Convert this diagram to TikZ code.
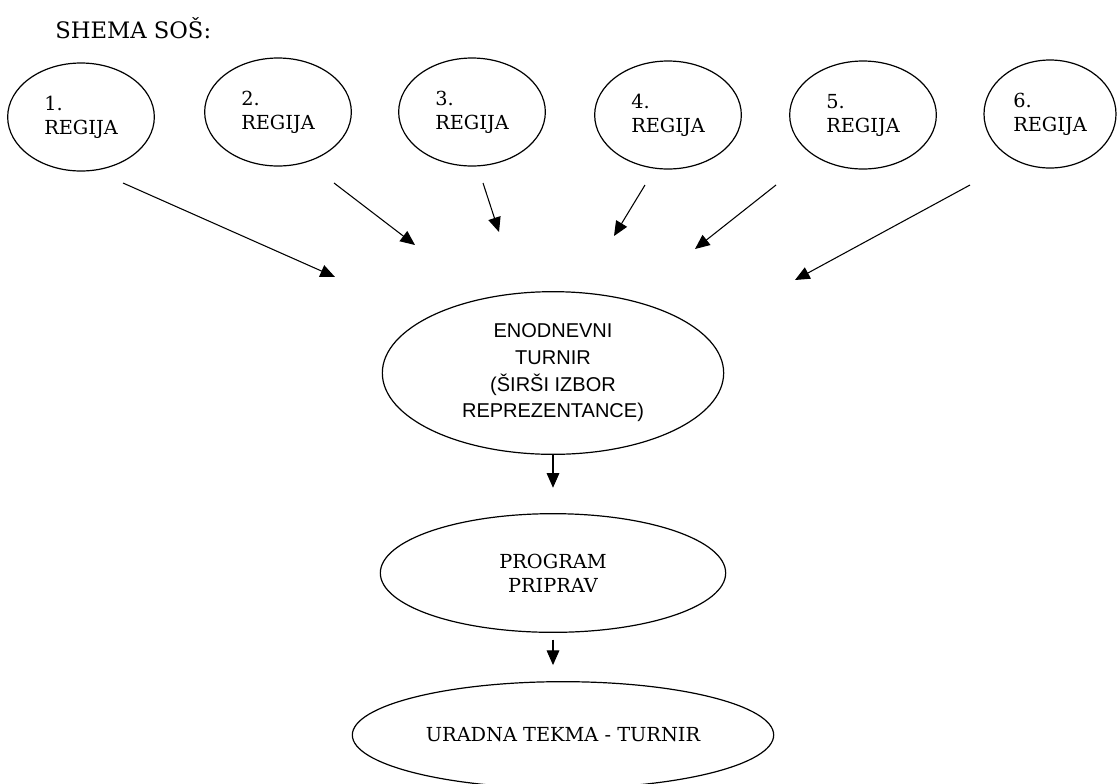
\documentclass[tikz,border=0pt]{standalone}
\usepackage{fontspec}
\setmainfont{DejaVu Serif}
\newfontfamily\arialfont{Liberation Sans}
\usetikzlibrary{arrows.meta,shapes}
\tikzset{
  regija/.style={draw, ellipse, line width=0.9pt, minimum width=110pt, minimum height=81pt, inner sep=0pt, align=left, font=\fontsize{14.5}{18}\selectfont},
  faza/.style={draw, ellipse, line width=0.9pt, inner sep=0pt, align=center},
  puscica/.style={-{Triangle[length=11pt, width=9.5pt]}, line width=0.8pt}
}

\begin{document}
\begin{tikzpicture}[x=0.75pt, y=-0.75pt]
  \useasboundingbox (0,0) rectangle (1119,783);
  \clip (0,0) rectangle (1119,783);

  \node[anchor=base west, inner sep=0pt, font=\fontsize{17}{20}\selectfont] (naslov) at (55,38) {SHEMA SOŠ:};

  % regije
  \node[regija] (1) at (81,117) {1.\\REGIJA};
  \node[regija] (2) at (278,112) {2.\\REGIJA};
  \node[regija] (3) at (472,112) {3.\\REGIJA};
  \node[regija] (4) at (668,115) {4.\\REGIJA};
  \node[regija] (5) at (863,115) {5.\\REGIJA};
  \node[regija, minimum width=99pt] (6) at (1050,114) {6.\\REGIJA};

  \node[faza, minimum width=256pt, minimum height=122pt, font=\arialfont\fontsize{15}{20}\selectfont] (turnir) at (553,373)
    {ENODNEVNI\\TURNIR\\(ŠIRŠI IZBOR\\REPREZENTANCE)};
  \node[faza, minimum width=259pt, minimum height=89pt, font=\fontsize{14.5}{18}\selectfont] (priprave) at (553,573) {PROGRAM\\PRIPRAV};
  \node[faza, minimum width=316pt, minimum height=80pt, font=\fontsize{14.5}{18}\selectfont] (tekma) at (563,735) {URADNA TEKMA - TURNIR};

  % puscice proti turnirju
  \coordinate (a1) at (123,183); \coordinate (b1) at (335,277);
  \coordinate (a2) at (334,183); \coordinate (b2) at (415,245);
  \coordinate (a3) at (483,183); \coordinate (b3) at (499,232);
  \coordinate (a4) at (645,185); \coordinate (b4) at (614,236);
  \coordinate (a5) at (776,185); \coordinate (b5) at (695,249);
  \coordinate (a6) at (970,185); \coordinate (b6) at (795,280);
  \draw[puscica] (a1) -- (b1);
  \draw[puscica] (a2) -- (b2);
  \draw[puscica] (a3) -- (b3);
  \draw[puscica] (a4) -- (b4);
  \draw[puscica] (a5) -- (b5);
  \draw[puscica] (a6) -- (b6);

  \draw[puscica, shorten >=19pt] (turnir.south) -- (priprave.north);
  \draw[puscica, shorten <=5pt, shorten >=12pt] (priprave.south) -- (priprave.south |- tekma.north);
\end{tikzpicture}
\end{document}
